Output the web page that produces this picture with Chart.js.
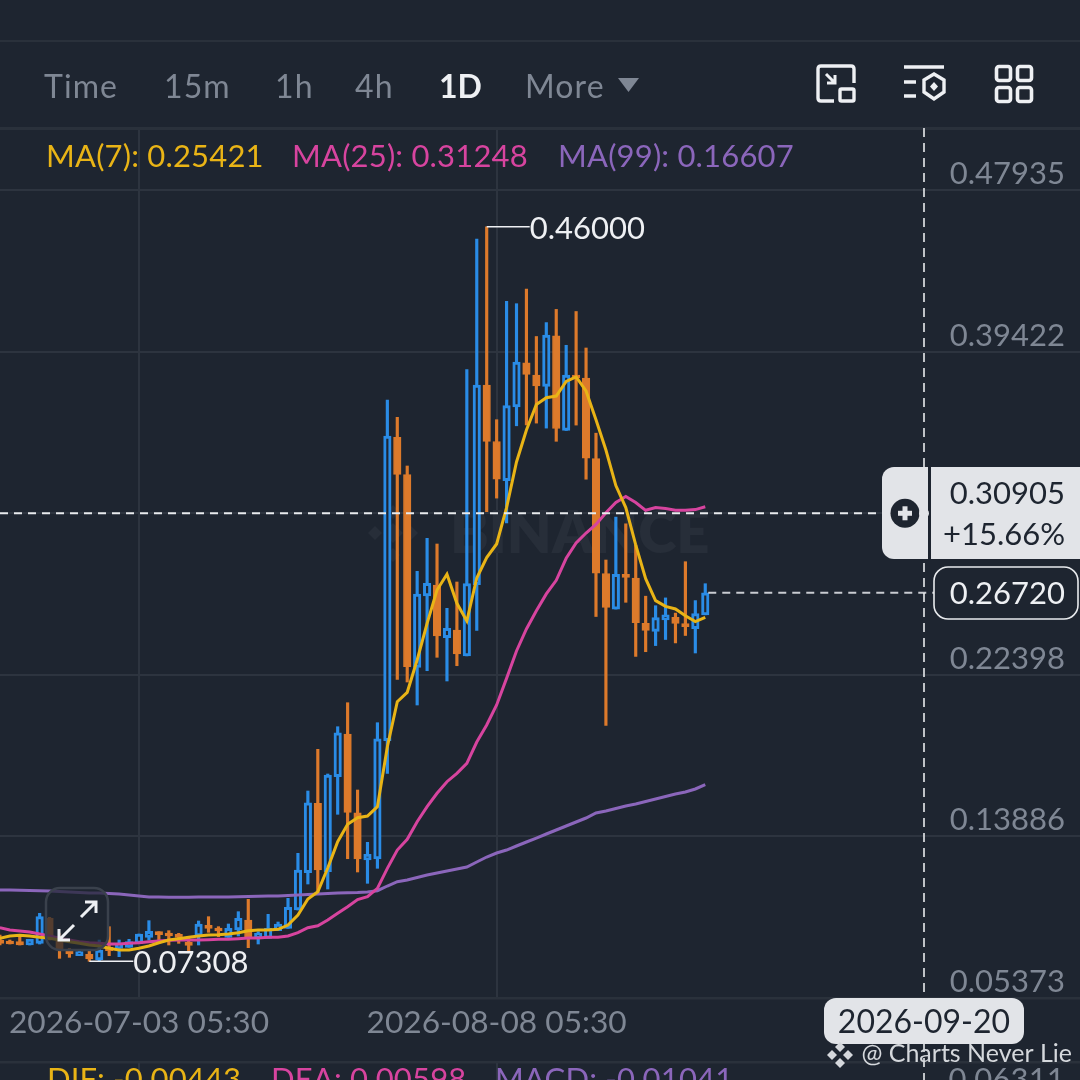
<!DOCTYPE html>
<html>
<head>
<meta charset="utf-8">
<title>Chart</title>
<script src="https://cdn.jsdelivr.net/npm/chart.js@4/dist/chart.umd.js"></script>
<style>
  html, body { margin: 0; padding: 0; background: #1e2530; width: 1080px; height: 1080px; overflow: hidden; }
  body { position: relative; font-family: Lato, sans-serif; }
  canvas { position: absolute; left: 0; top: 0; }
  .tab { position: absolute; top: 66px; font-size: 32px; line-height: 40px; color: #7f8794; letter-spacing: 1.1px; }
  .tab.on { color: #eef0f3; font-weight: 700; letter-spacing: 0; }
  .ma { position: absolute; top: 136px; font-size: 31px; line-height: 38px; letter-spacing: .18px; white-space: pre; }
  .macd { position: absolute; top: 1059px; font-size: 31px; line-height: 38px; letter-spacing: .18px; white-space: pre; }
  svg { position: absolute; }
</style>
</head>
<body>
<canvas id="chart" width="1080" height="1080"></canvas>

<span class="tab" style="left:44px">Time</span>
<span class="tab" style="left:164px">15m</span>
<span class="tab" style="left:275px">1h</span>
<span class="tab" style="left:355px">4h</span>
<span class="tab on" style="left:439px">1D</span>
<span class="tab" style="left:525px">More</span>
<svg style="left:618px;top:78px" width="21" height="15"><path d="M0 0H21L10.5 14Z" fill="#7f8794"/></svg>

<svg style="left:815px;top:63px" width="42" height="42" fill="none" stroke="#eef0f3" stroke-width="3.4">
  <path d="M19 38H6Q3 38 3 35V6Q3 3 6 3H36Q39 3 39 6V20"/>
  <rect x="25" y="26" width="14" height="12" rx="1.5"/>
  <path d="M11 11L20 20M20 12V20H12" stroke-width="3"/>
</svg>
<svg style="left:902px;top:63px" width="46" height="42" fill="none" stroke="#eef0f3" stroke-width="3.4">
  <path d="M2 4H42M2 19H14M2 33H14"/>
  <path d="M32 11L42 17V29L32 36L22 29V17Z"/>
  <path d="M32 19L36 23.5L32 28L28 23.5Z" fill="#eef0f3" stroke="none"/>
</svg>
<svg style="left:993px;top:63px" width="42" height="42" fill="none" stroke="#eef0f3" stroke-width="3.6">
  <rect x="3.5" y="3.5" width="14" height="14" rx="2.5"/>
  <rect x="24.5" y="3.5" width="14" height="14" rx="2.5"/>
  <rect x="3.5" y="24.5" width="14" height="14" rx="2.5"/>
  <rect x="24.5" y="24.5" width="14" height="14" rx="2.5"/>
</svg>

<span id="ma7" class="ma" style="left:46px;color:#e9b416"></span>
<span id="ma25" class="ma" style="left:292px;color:#d7449f"></span>
<span id="ma99" class="ma" style="left:558px;color:#8b66bb"></span>

<span class="macd" style="left:47px;color:#e9b416">DIF: -0.00443</span>
<span class="macd" style="left:271px;color:#d7449f">DEA: 0.00598</span>
<span class="macd" style="left:495px;color:#8b66bb">MACD: -0.01041</span>
<span class="macd" style="right:15px;color:#7f8794">0.06311</span>

<script>
// daily candles. first candle is 14 days before the 07-03 gridline
const firstDay = -14;
const opens = [0.08428,0.08340,0.08340,0.08164,0.08252,0.09569,0.08428,0.07866,0.07602,0.07673,0.07374,0.08041,0.07989,0.08041,
  0.08252,0.08568,0.08814,0.08744,0.08691,0.08287,0.08639,0.09165,0.09042,0.08568,0.08955,0.09481,0.08568,0.08516,0.08919,0.09042,
  0.10008,0.11973,0.15628,0.12025,0.17030,0.19279,0.15133,0.12642,0.12694,0.18926,0.34908,0.32938,0.22792,0.26548,0.27128,0.24352,
  0.24757,0.23388,0.27143,0.37652,0.34687,0.32627,0.36514,0.38827,0.38189,0.37584,0.40254,0.35266,0.38153,0.38031,0.33786,0.27728,
  0.25858,0.27643,0.27496,0.25110,0.24683,0.25289,0.25431,0.25094,0.24825,0.25558];
const highs = [0.08691,0.08428,0.08691,0.08463,0.09833,0.09622,0.08779,0.07989,0.07901,0.07901,0.08428,0.09130,0.08428,0.08463,
  0.08744,0.09446,0.08867,0.08919,0.08779,0.08516,0.09429,0.09657,0.09130,0.09271,0.09920,0.10570,0.08867,0.09780,0.09376,0.10623,
  0.12994,0.16276,0.18473,0.17172,0.19663,0.20927,0.16329,0.13574,0.19874,0.36873,0.35961,0.33396,0.27849,0.29587,0.29287,0.25900,
  0.27286,0.38474,0.45353,0.46000,0.35835,0.42072,0.41945,0.42714,0.40217,0.40950,0.41645,0.39754,0.41534,0.39612,0.35124,0.28444,
  0.30704,0.30351,0.29245,0.26538,0.26037,0.26448,0.25647,0.28355,0.26306,0.27196];
const lows = [0.08164,0.08217,0.08164,0.08164,0.08217,0.08428,0.07462,0.07515,0.07602,0.07308,0.07339,0.07602,0.07550,0.08041,
  0.08252,0.08428,0.08428,0.08164,0.08252,0.07866,0.08164,0.08832,0.08603,0.08568,0.08639,0.08024,0.08217,0.08516,0.08919,0.09042,
  0.10008,0.11377,0.10903,0.11114,0.15049,0.12710,0.12010,0.11414,0.12204,0.17209,0.22160,0.22018,0.20806,0.22613,0.23319,0.22071,
  0.22876,0.23388,0.24736,0.30989,0.31705,0.30404,0.35514,0.35566,0.35656,0.35392,0.34697,0.35266,0.35551,0.32700,0.25468,0.19731,
  0.25858,0.26216,0.23366,0.23614,0.23936,0.24257,0.24077,0.24467,0.23546,0.25558];
const closes = [0.08252,0.08217,0.08164,0.08463,0.09657,0.08516,0.07901,0.07690,0.07813,0.07427,0.07901,0.07866,0.08252,0.08340,
  0.08744,0.08884,0.08709,0.08639,0.08568,0.08147,0.09271,0.09042,0.08902,0.09042,0.09569,0.08568,0.08779,0.09042,0.09271,0.10149,
  0.12115,0.15660,0.12115,0.17119,0.19347,0.15154,0.12694,0.12942,0.19031,0.34976,0.32959,0.22824,0.26653,0.27217,0.24441,0.24847,
  0.23493,0.27207,0.37663,0.34697,0.32700,0.36583,0.38864,0.38221,0.37615,0.40291,0.35371,0.38189,0.38031,0.33807,0.27749,0.25947,
  0.27696,0.27533,0.25146,0.24736,0.25415,0.25558,0.25110,0.24931,0.25626,0.26720];

const ma7 = [0.08517,0.08638,0.08675,0.08638,0.08569,0.08517,0.08428,0.08338,0.08254,0.08164,0.08112,0.07990,0.07901,0.07901,
  0.07990,0.08112,0.08285,0.08428,0.08496,0.08569,0.08638,0.08691,0.08707,0.08744,0.08812,0.08918,0.08954,0.08954,0.08991,0.09218,
  0.09744,0.10587,0.10971,0.12220,0.13606,0.14522,0.14870,0.14959,0.15449,0.18610,0.20980,0.21475,0.23177,0.25110,0.26864,0.27691,
  0.26163,0.25231,0.27496,0.28576,0.29287,0.31205,0.33607,0.35292,0.36636,0.36994,0.37083,0.37847,0.38084,0.37347,0.35835,0.34239,
  0.32363,0.31205,0.29245,0.27464,0.26306,0.26000,0.25863,0.25505,0.25200,0.25421];
const ma25 = [0.09076,0.08954,0.08902,0.08849,0.08744,0.08638,0.08517,0.08428,0.08338,0.08285,0.08254,0.08217,0.08217,0.08254,
  0.08285,0.08338,0.08375,0.08412,0.08428,0.08428,0.08428,0.08443,0.08464,0.08464,0.08496,0.08533,0.08533,0.08569,0.08569,0.08638,
  0.08812,0.09076,0.09181,0.09481,0.09834,0.10182,0.10561,0.10708,0.11151,0.12204,0.13168,0.13732,0.14659,0.15449,0.16155,0.16766,
  0.17209,0.17736,0.18857,0.19753,0.20806,0.22208,0.23651,0.24810,0.25768,0.26659,0.27375,0.28534,0.29340,0.29867,0.30314,0.30936,
  0.31473,0.31790,0.31473,0.31062,0.31205,0.31152,0.31062,0.31062,0.31099,0.31248];
const ma99 = [0.11061,0.11061,0.11046,0.11035,0.11019,0.11009,0.10982,0.10956,0.10930,0.10903,0.10903,0.10877,0.10851,0.10798,
  0.10745,0.10693,0.10693,0.10677,0.10677,0.10677,0.10693,0.10693,0.10693,0.10693,0.10703,0.10719,0.10729,0.10745,0.10745,0.10772,
  0.10798,0.10824,0.10851,0.10877,0.10903,0.10919,0.10930,0.10956,0.11024,0.11272,0.11499,0.11588,0.11720,0.11851,0.11957,0.12062,
  0.12168,0.12273,0.12536,0.12800,0.13010,0.13168,0.13379,0.13590,0.13800,0.14011,0.14222,0.14433,0.14643,0.14854,0.15117,0.15223,
  0.15354,0.15486,0.15591,0.15724,0.15855,0.15986,0.16118,0.16224,0.16382,0.16607];

const yTicks = [0.47935, 0.39422, 0.30905, 0.22398, 0.13886, 0.05373];
const xTickDays = [0, 36];
const xTickLabels = ['2026-07-03 05:30', '2026-08-08 05:30'];

const highPrice = 0.46000, highDay = 35;
const lowPrice = 0.07308, lowDay = -5;
const crossDay = 79, crossPrice = 0.30905, crossPct = '+15.66%', crossDate = '2026-09-20';
const lastPrice = closes[closes.length - 1], lastDay = firstDay + closes.length - 1;

const BG = '#1e2530', BLUE = '#2a8ce6', ORANGE = '#dd7a2b', GRID = '#2d343f', SEP = '#2a313b', TEXT = '#7f8794', LIGHT = '#e2e4e8';
const FONT = '31px Lato, sans-serif';

document.getElementById('ma7').textContent = 'MA(7): ' + ma7[ma7.length - 1].toFixed(5);
document.getElementById('ma25').textContent = 'MA(25): ' + ma25[ma25.length - 1].toFixed(5);
document.getElementById('ma99').textContent = 'MA(99): ' + ma99[ma99.length - 1].toFixed(5);

const dayOf = i => firstDay + i;
const isUp = opens.map((o, i) => closes[i] >= o);

function lineSet(values, color) {
    return {
        type: 'line',
        data: values.map((v, i) => ({ x: dayOf(i), y: v })),
        borderColor: color,
        borderWidth: 3,
        pointRadius: 0,
        tension: 0,
        order: 1
    };
}

function roundBox(ctx, x, y, w, h, r, fill, stroke) {
    ctx.beginPath();
    ctx.roundRect(x, y, w, h, r);
    if (fill) { ctx.fillStyle = fill; ctx.fill(); }
    if (stroke) { ctx.strokeStyle = stroke; ctx.lineWidth = 1.6; ctx.stroke(); }
}

function hDash(ctx, x1, x2, y, color) {
    ctx.save();
    ctx.strokeStyle = color;
    ctx.lineWidth = 2;
    ctx.setLineDash([8, 6]);
    ctx.beginPath();
    ctx.moveTo(x1, y);
    ctx.lineTo(x2, y);
    ctx.stroke();
    ctx.restore();
}

function diamond(ctx, cx, cy, r) {
    ctx.beginPath();
    ctx.moveTo(cx, cy - r);
    ctx.lineTo(cx + r, cy);
    ctx.lineTo(cx, cy + r);
    ctx.lineTo(cx - r, cy);
    ctx.closePath();
    ctx.fill();
}

const panelPlugin = {
    id: 'panel',
    beforeDatasetsDraw(chart) {
        const ctx = chart.ctx;
        const { x } = chart.scales;
        ctx.save();
        // frame lines
        ctx.fillStyle = SEP;
        ctx.fillRect(0, 40, 1080, 2);
        ctx.fillRect(0, 127, 1080, 3);
        ctx.fillRect(0, 997, 1080, 2.5);
        ctx.fillRect(0, 1061, 1080, 2.5);
        ctx.fillStyle = GRID;
        xTickDays.forEach(d => ctx.fillRect(Math.round(x.getPixelForValue(d)) - 1, 1063, 2, 17));
        // watermark
        ctx.fillStyle = '#272e39';
        diamond(ctx, 393, 533, 10);
        diamond(ctx, 375, 533, 7);
        diamond(ctx, 411, 533, 7);
        diamond(ctx, 393, 512, 7);
        diamond(ctx, 393, 555, 7);
        ctx.font = '800 58px Lato, sans-serif';
        ctx.textAlign = 'left';
        ctx.textBaseline = 'middle';
        ctx.fillText('BINANCE', 450, 534);
        ctx.restore();
    },
    afterDatasetsDraw(chart) {
        const ctx = chart.ctx;
        const { x, y } = chart.scales;
        const cx = Math.round(x.getPixelForValue(crossDay));
        const cy = y.getPixelForValue(crossPrice);
        const ly = y.getPixelForValue(lastPrice);
        ctx.save();
        // high / low labels
        ctx.font = FONT;
        ctx.fillStyle = '#eef0f3';
        ctx.strokeStyle = '#eef0f3';
        ctx.lineWidth = 1.4;
        ctx.textBaseline = 'middle';
        ctx.textAlign = 'left';
        const hx = x.getPixelForValue(highDay), hy = y.getPixelForValue(highPrice);
        ctx.beginPath(); ctx.moveTo(hx, hy); ctx.lineTo(hx + 43, hy); ctx.stroke();
        ctx.fillText(highPrice.toFixed(5), hx + 43, hy + 2);
        const lx = x.getPixelForValue(lowDay), ly2 = y.getPixelForValue(lowPrice);
        ctx.beginPath(); ctx.moveTo(lx, ly2); ctx.lineTo(lx + 44, ly2); ctx.stroke();
        ctx.fillText(lowPrice.toFixed(5), lx + 44, ly2 + 2);

        // expand button
        roundBox(ctx, 46, 888, 62, 62, 14, 'rgba(30,37,48,0.72)', null);
        ctx.strokeStyle = '#3a414c';
        ctx.lineWidth = 2.5;
        ctx.beginPath(); ctx.roundRect(46, 888, 62, 62, 14); ctx.stroke();
        ctx.strokeStyle = '#eef0f3';
        ctx.lineWidth = 3;
        ctx.beginPath();
        ctx.moveTo(81, 917); ctx.lineTo(96, 902); ctx.moveTo(85, 902); ctx.lineTo(96, 902); ctx.lineTo(96, 913);
        ctx.moveTo(74, 925); ctx.lineTo(59, 940); ctx.moveTo(59, 929); ctx.lineTo(59, 940); ctx.lineTo(70, 940);
        ctx.stroke();

        // crosshair
        hDash(ctx, 0, 882, cy, '#e8eaed');
        hDash(ctx, x.getPixelForValue(lastDay) + 3, 934, ly, '#c9ccd1');
        ctx.strokeStyle = '#e8eaed';
        ctx.lineWidth = 1.6;
        ctx.setLineDash([9, 6]);
        ctx.beginPath(); ctx.moveTo(cx, 128); ctx.lineTo(cx, 1080); ctx.stroke();
        ctx.setLineDash([]);

        // crosshair price tag
        roundBox(ctx, 882, 467, 210, 92, 12, LIGHT, null);
        ctx.fillStyle = BG;
        ctx.fillRect(928, 467, 3, 92);
        ctx.beginPath(); ctx.arc(905, cy, 14.5, 0, Math.PI * 2); ctx.fill();
        ctx.fillStyle = LIGHT;
        ctx.fillRect(898, cy - 2.5, 14, 5);
        ctx.fillRect(902.5, cy - 7, 5, 14);
        ctx.beginPath(); ctx.arc(cx, cy, 5, 0, Math.PI * 2); ctx.fill();
        ctx.fillStyle = BG;
        ctx.font = FONT;
        ctx.textAlign = 'right';
        ctx.fillText(crossPrice.toFixed(5), 1065, 494);
        ctx.fillText(crossPct, 1065, 535);

        // last price tag
        roundBox(ctx, 934, 567, 144, 52, 14, BG, '#e8eaed');
        ctx.fillStyle = '#eef0f3';
        ctx.fillText(lastPrice.toFixed(5), 1065, ly + 1);

        // date tag
        roundBox(ctx, 824, 998, 200, 46, 12, LIGHT, null);
        ctx.fillStyle = BG;
        ctx.textAlign = 'center';
        ctx.font = '32px Lato, sans-serif';
        ctx.fillText(crossDate, cx, 1023);

        // footer watermark
        ctx.fillStyle = '#d5d8dc';
        diamond(ctx, 840, 1047, 5);
        diamond(ctx, 832, 1055, 5);
        diamond(ctx, 848, 1055, 5);
        diamond(ctx, 840, 1063, 5);
        ctx.font = '25px Lato, sans-serif';
        ctx.textAlign = 'right';
        ctx.fillText('@ Charts Never Lie', 1072, 1054);
        ctx.restore();
    }
};

new Chart(document.getElementById('chart'), {
    type: 'bar',
    data: {
        datasets: [
            lineSet(ma7, '#e9b416'),
            lineSet(ma25, '#d7449f'),
            lineSet(ma99, '#8b66bb'),
            {
                // candle bodies, up candles are hollow
                data: opens.map((o, i) => ({ x: dayOf(i), y: [o, closes[i]] })),
                backgroundColor: isUp.map(u => (u ? BG : ORANGE)),
                borderColor: isUp.map(u => (u ? BLUE : ORANGE)),
                borderWidth: isUp.map(u => (u ? 3 : 1)),
                borderSkipped: false,
                barThickness: 7.5,
                minBarLength: 3,
                grouped: false,
                order: 2
            },
            {
                // wicks
                data: lows.map((l, i) => ({ x: dayOf(i), y: [l, highs[i]] })),
                backgroundColor: isUp.map(u => (u ? BLUE : ORANGE)),
                barThickness: 2.5,
                grouped: false,
                order: 3
            }
        ]
    },
    options: {
        responsive: false,
        animation: false,
        devicePixelRatio: 1,
        layout: { padding: { top: 128, left: 0, right: 0, bottom: 0 } },
        plugins: { legend: { display: false }, tooltip: { enabled: false } },
        scales: {
            x: {
                type: 'linear',
                min: -13.99,
                max: 94.72,
                offset: false,
                afterBuildTicks: s => { s.ticks = xTickDays.map(v => ({ value: v })); },
                afterFit: s => { s.height = 82; s.paddingLeft = 0; s.paddingRight = 0; },
                grid: { color: GRID, lineWidth: 2, drawTicks: false, offset: false },
                border: { display: false },
                ticks: {
                    color: TEXT,
                    font: { family: 'Lato, sans-serif', size: 31.7 },
                    padding: 6,
                    maxRotation: 0,
                    autoSkip: false,
                    callback: v => xTickLabels[xTickDays.indexOf(v)]
                }
            },
            y: {
                position: 'right',
                min: 0.05373,
                max: 0.51200,
                afterBuildTicks: s => { s.ticks = yTicks.map(v => ({ value: v })); },
                afterFit: s => { s.width = 0; },
                grid: { color: GRID, lineWidth: 2, drawTicks: false },
                border: { display: false },
                ticks: {
                    mirror: true,
                    color: TEXT,
                    font: { family: 'Lato, sans-serif', size: 31 },
                    padding: -15,
                    labelOffset: -16,
                    callback: v => v.toFixed(5)
                }
            }
        }
    },
    plugins: [panelPlugin]
});
</script>
</body>
</html>
